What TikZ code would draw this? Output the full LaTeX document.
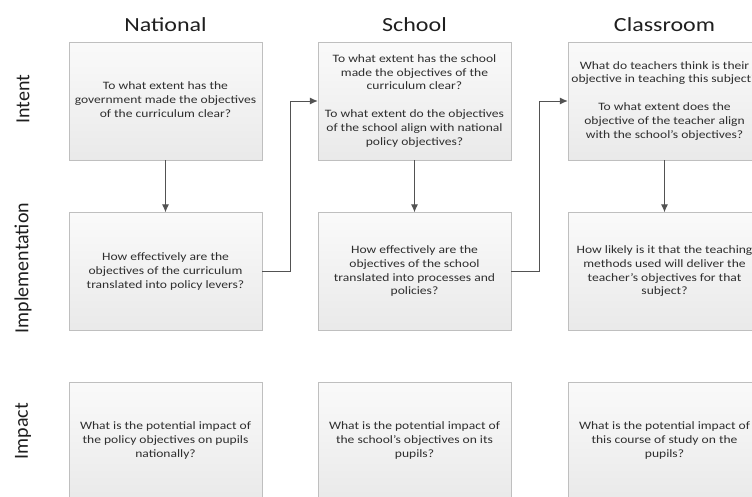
\documentclass[tikz,border=0pt]{standalone}
\usepackage{fontspec}
\setmainfont{Carlito}
\usepackage{graphicx}
\usetikzlibrary{arrows.meta}

\newcommand{\wide}[1]{\scalebox{1.2}[1]{#1}}
\newcommand{\qtext}[1]{\wide{\fontsize{11.3}{13.8}\selectfont\begin{tabular}{@{}c@{}}#1\end{tabular}}}

\begin{document}
\begin{tikzpicture}[x=1pt,y=-1pt,
  qbox/.style={rectangle, draw=gray!50, top color=gray!4, bottom color=gray!17, text=black!82, minimum width=193pt, minimum height=118pt, inner sep=0pt},
  colhead/.style={font=\fontsize{20}{24}\selectfont, text=black!88},
  rowhead/.style={font=\fontsize{20}{24}\selectfont, text=black!88, rotate=90},
  link/.style={draw=black!68, line width=1pt, -{Latex[length=8pt,width=7pt]}}]
\useasboundingbox (0,0) rectangle (752,496);
\clip (0,0) rectangle (752,496);
% column and row heads
\node[colhead] (hnat) at (165.5,25) {\wide{National}};
\node[colhead] (hsch) at (414.5,25) {\wide{School}};
\node[colhead] (hcls) at (664.5,25) {\wide{Classroom}};
\node[rowhead] (rint) at (23,99) {Intent};
\node[rowhead] (rimp) at (23,268) {Implementation};
\node[rowhead] (ract) at (23,431) {Impact};
% national
\node[qbox] (nat1) at (165.5,101) {\qtext{To what extent has the\\government made the objectives\\of the curriculum clear?}};
\node[qbox] (nat2) at (165.5,271.5) {\qtext{How effectively are the\\objectives of the curriculum\\translated into policy levers?}};
\node[qbox] (nat3) at (165.5,441) {\qtext{What is the potential impact of\\the policy objectives on pupils\\nationally?}};
% school
\node[qbox] (sch1) at (414.5,101) {\qtext{To what extent has the school\\made the objectives of the\\curriculum clear?\\[14pt]To what extent do the objectives\\of the school align with national\\policy objectives?}};
\node[qbox] (sch2) at (414.5,271.5) {\qtext{How effectively are the\\objectives of the school\\translated into processes and\\policies?}};
\node[qbox] (sch3) at (414.5,441) {\qtext{What is the potential impact of\\the school’s objectives on its\\pupils?}};
% classroom
\node[qbox] (cls1) at (664.5,101) {\qtext{What do teachers think is their\\objective in teaching this subject?\\[14pt]To what extent does the\\objective of the teacher align\\with the school’s objectives?}};
\node[qbox] (cls2) at (664.5,271.5) {\qtext{How likely is it that the teaching\\methods used will deliver the\\teacher’s objectives for that\\subject?}};
\node[qbox] (cls3) at (664.5,441) {\qtext{What is the potential impact of\\this course of study on the\\pupils?}};
% links
\draw[link] (nat1) -- (nat2);
\draw[link] (sch1) -- (sch2);
\draw[link] (cls1) -- (cls2);
\draw[link] (nat2.east) -- ++(28.5,0) |- (sch1.west);
\draw[link] (sch2.east) -- ++(28,0) |- (cls1.west);
\end{tikzpicture}
\end{document}
